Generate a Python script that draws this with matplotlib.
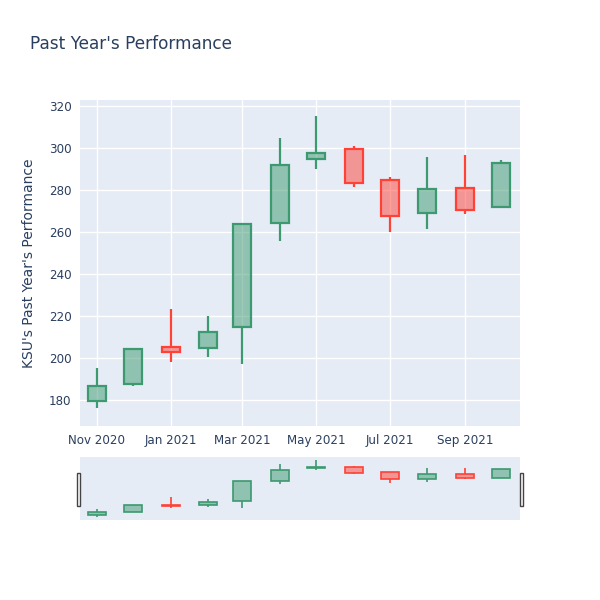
import matplotlib
matplotlib.use("Agg")
import matplotlib.pyplot as plt
import matplotlib.dates as mdates
from matplotlib.patches import Rectangle
import pandas as pd

# monthly candles
dates = pd.to_datetime([
    "2020-11-01", "2020-12-01", "2021-01-01", "2021-02-01", "2021-03-01", "2021-04-01",
    "2021-05-01", "2021-06-01", "2021-07-01", "2021-08-01", "2021-09-01", "2021-10-01",
])
opens = [179.4, 187.6, 205.2, 204.6, 214.9, 264.1, 294.6, 299.4, 284.8, 268.9, 280.8, 272.0]
highs = [195.4, 204.1, 223.3, 219.9, 264.4, 304.6, 315.2, 300.8, 286.0, 295.6, 296.7, 294.1]
lows = [176.0, 186.8, 198.3, 200.3, 197.0, 255.7, 290.2, 281.4, 259.8, 261.6, 268.7, 272.0]
closes = [186.5, 204.1, 202.7, 212.4, 263.7, 291.8, 297.5, 283.3, 267.6, 280.5, 270.5, 293.0]

x_ticks = pd.to_datetime(["2020-11-01", "2021-01-01", "2021-03-01", "2021-05-01",
                          "2021-07-01", "2021-09-01"])
x_tick_labels = ["Nov 2020", "Jan 2021", "Mar 2021", "May 2021", "Jul 2021", "Sep 2021"]
y_ticks = [180, 200, 220, 240, 260, 280, 300, 320]

INC = "#3D9970"
DEC = "#FF4136"
BG = "#E5ECF6"
TXT = "#2a3f5f"

x_min = pd.Timestamp("2020-10-18")
x_max = pd.Timestamp("2021-10-16 12:00")
y_min, y_max = 167.6, 322.9


def draw_candles(ax, lw=1.6, width=14.8):
    for d, o, h, l, c in zip(dates, opens, highs, lows, closes):
        col = INC if c >= o else DEC
        xd = mdates.date2num(d)
        lo, hi = min(o, c), max(o, c)
        # wicks only outside the body
        ax.plot([xd, xd], [l, lo], color=col, lw=lw, zorder=2, solid_capstyle="butt")
        ax.plot([xd, xd], [hi, h], color=col, lw=lw, zorder=2, solid_capstyle="butt")
        ax.add_patch(Rectangle((xd - width / 2, lo), width, hi - lo,
                               facecolor=col, alpha=0.5, edgecolor="none", zorder=3))
        ax.add_patch(Rectangle((xd - width / 2, lo), width, hi - lo,
                               facecolor="none", edgecolor=col, lw=lw, zorder=4))


fig = plt.figure(figsize=(6, 6), dpi=100)

ax = fig.add_axes([80 / 600, 1 - 426 / 600, 440 / 600, 326 / 600])
ax.set_facecolor(BG)
draw_candles(ax)
ax.set_xlim(mdates.date2num(x_min), mdates.date2num(x_max))
ax.set_ylim(y_min, y_max)
ax.set_xticks(mdates.date2num(x_ticks))
ax.set_xticklabels(x_tick_labels)
ax.set_yticks(y_ticks)
ax.grid(True, color="white", lw=1)
ax.set_axisbelow(True)
ax.tick_params(length=0, labelsize=8.6, colors=TXT, pad=6)
for s in ax.spines.values():
    s.set_visible(False)
ax.set_ylabel("KSU's Past Year's Performance", fontsize=10, color=TXT, labelpad=9)

# range slider
sl = fig.add_axes([80 / 600, 1 - 520 / 600, 440 / 600, 63 / 600])
sl.set_facecolor(BG)
draw_candles(sl, lw=1.2, width=14.8)
sl.set_xlim(mdates.date2num(x_min), mdates.date2num(x_max))
sl.set_ylim(y_min, y_max)
sl.set_xticks([])
sl.set_yticks([])
for s in sl.spines.values():
    s.set_visible(False)
for hx in (-0.006, 1.0):
    sl.add_patch(Rectangle((hx, 0.23), 0.007, 0.51, transform=sl.transAxes,
                           facecolor="white", edgecolor="#444444", lw=1,
                           clip_on=False, zorder=5))

fig.text(30 / 600, 1 - 44 / 600, "Past Year's Performance", fontsize=12.2,
         color=TXT, ha="left", va="center")

fig.savefig("out.png", dpi=100, facecolor="white")
